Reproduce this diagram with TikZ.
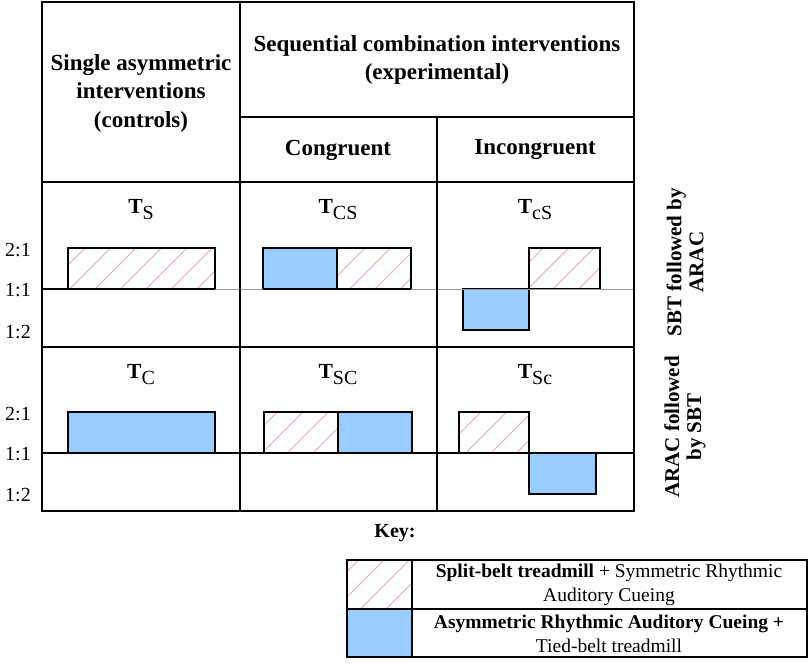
\documentclass[tikz,border=0pt]{standalone}
\usepackage{fontspec}
\setmainfont{Liberation Serif}
\usepackage{tikz}
\usetikzlibrary{patterns.meta}
\definecolor{cueblue}{RGB}{153,204,255}
\definecolor{hatchred}{RGB}{236,150,150}
\tikzset{
  sbt/.style={pattern={Lines[angle=45,distance=18pt,line width=0.7pt]},pattern color=hatchred,draw=black,line width=1.3pt},
  arac/.style={fill=cueblue,draw=black,line width=1.3pt},
  grid/.style={line width=1.6pt},
  hd/.style={font=\fontsize{23}{28.5}\selectfont\bfseries,align=center},
  tlab/.style={font=\fontsize{21.5}{21.5}\selectfont},
  ratio/.style={font=\fontsize{20}{24}\selectfont},
  side/.style={font=\fontsize{21}{22}\selectfont\bfseries,align=center,rotate=90},
  keytext/.style={font=\fontsize{19.5}{23.5}\selectfont,align=center}
}
\newcommand{\tsub}[1]{\textbf{T}\raisebox{-6pt}{\fontsize{20}{20}\selectfont #1}}

\begin{document}
\begin{tikzpicture}[x=1pt,y=-1pt]
    \useasboundingbox (0,0) rectangle (810,664);
    % row 1: SBT followed by ARAC
    \draw[sbt] (68,248) rectangle (215,289);
    \draw[arac] (263,248) rectangle (337,289);
    \draw[sbt] (337,248) rectangle (411,289);
    \draw[arac] (463,289) rectangle (529,330);
    \draw[sbt] (529,248) rectangle (600,289);
    \draw[line width=1.6pt] (42,289) -- (68,289);
    \draw[gray!80,line width=1pt] (215,289) -- (263,289);
    \draw[gray!80,line width=1pt] (411,289) -- (634,289);
    % row 2: ARAC followed by SBT
    \draw[arac] (68,412) rectangle (215,453);
    \draw[sbt] (264,412) rectangle (338,453);
    \draw[arac] (338,412) rectangle (412,453);
    \draw[sbt] (459,412) rectangle (529,453);
    \draw[arac] (529,453) rectangle (596,494);
    % table
    \draw[grid] (42,2) rectangle (634,511);
    \draw[grid] (240,2) -- (240,511);
    \draw[grid] (437,117) -- (437,511);
    \draw[grid] (240,117) -- (634,117);
    \draw[grid] (42,182) -- (634,182);
    \draw[grid] (42,347) -- (634,347);
    \draw[grid] (42,453) -- (634,453);
    % headers
    \node[hd] (hdsingle) at (141,93) {Single asymmetric\\interventions\\(controls)};
    \node[hd] (hdseq) at (437,60) {Sequential combination interventions\\(experimental)};
    \node[hd] (hdcong) at (338,150) {Congruent};
    \node[hd] (hdincong) at (535,150) {Incongruent};
    \node[tlab] (tS) at (141,210) {\tsub{S}};
    \node[tlab] (tCS) at (338,210) {\tsub{CS}};
    \node[tlab] (tcS) at (535,210) {\tsub{cS}};
    \node[tlab] (tC) at (141,375) {\tsub{C}};
    \node[tlab] (tSC) at (338,375) {\tsub{SC}};
    \node[tlab] (tSc) at (535,375) {\tsub{Sc}};
    % ratios
    \node[ratio] (r21a) at (18,250) {2:1};
    \node[ratio] (r11a) at (18,290) {1:1};
    \node[ratio] (r12a) at (18,332) {1:2};
    \node[ratio] (r21b) at (18,414) {2:1};
    \node[ratio] (r11b) at (18,454) {1:1};
    \node[ratio] (r12b) at (18,495) {1:2};
    \node[side] (sbtarac) at (685,262) {SBT followed by\\ARAC};
    \node[side] (aracsbt) at (685,427) {ARAC followed\\by SBT};
    % key
    \node[font=\fontsize{20}{24}\selectfont\bfseries] (key) at (395,533) {Key:};
    \draw[sbt,draw=none] (347,560) rectangle (412,609);
    \fill[cueblue] (347,609) rectangle (412,657);
    \draw[line width=1.3pt] (347,560) rectangle (807,657);
    \draw[line width=1.3pt] (347,609) -- (807,609);
    \draw[line width=1.3pt] (412,560) -- (412,657);
    \node[keytext] (keysbt) at (609,585) {\textbf{Split-belt treadmill} + Symmetric Rhythmic\\Auditory Cueing};
    \node[keytext] (keyarac) at (609,634) {\textbf{Asymmetric Rhythmic Auditory Cueing +}\\Tied-belt treadmill};
\end{tikzpicture}
\end{document}
